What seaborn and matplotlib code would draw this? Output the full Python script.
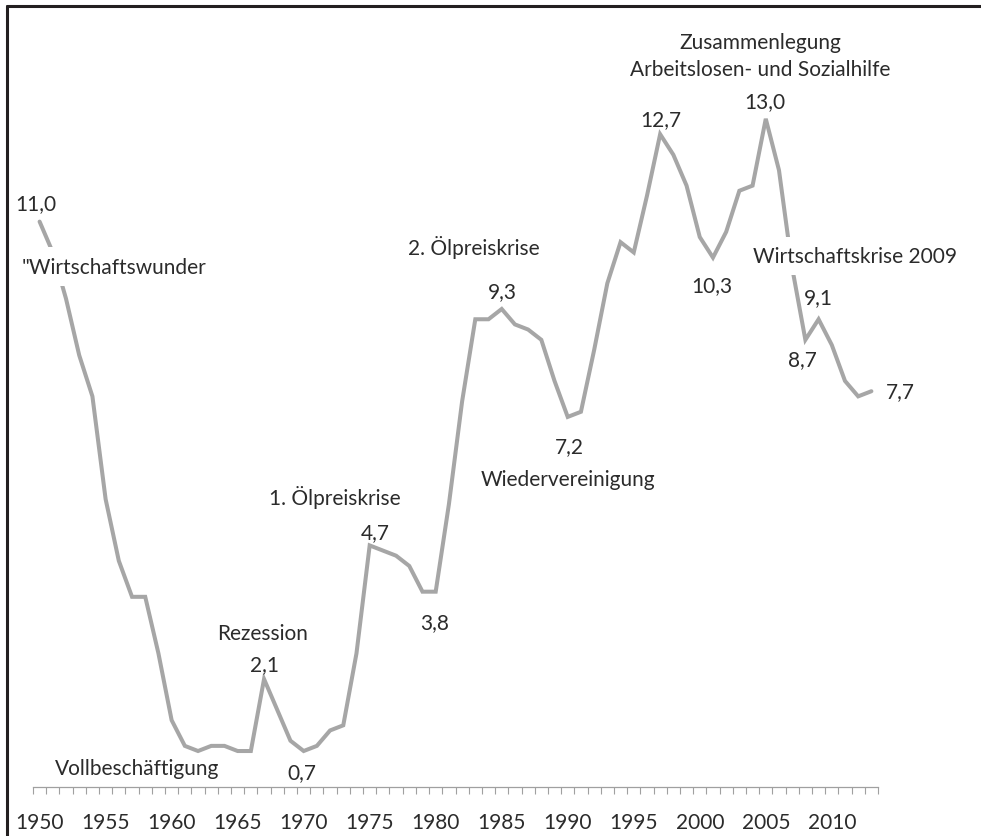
import matplotlib
matplotlib.use("Agg")
import matplotlib.pyplot as plt
from matplotlib.lines import Line2D
from matplotlib.ticker import FixedLocator, NullFormatter
import numpy as np
import pandas as pd
import seaborn as sns

# ---------------- data ----------------
years = list(range(1950, 2014))
rate = [11.0, 10.4, 9.5, 8.4, 7.6, 5.6, 4.4, 3.7, 3.7, 2.6,
        1.3, 0.8, 0.7, 0.8, 0.8, 0.7, 0.7, 2.1, 1.5, 0.9,
        0.7, 0.8, 1.1, 1.2, 2.6, 4.7, 4.6, 4.5, 4.3, 3.8,
        3.8, 5.5, 7.5, 9.1, 9.1, 9.3, 9.0, 8.9, 8.7, 7.9,
        7.2, 7.3, 8.5, 9.8, 10.6, 10.4, 11.5, 12.7, 12.3, 11.7,
        10.7, 10.3, 10.8, 11.6, 11.7, 13.0, 12.0, 10.1, 8.7, 9.1,
        8.6, 7.9, 7.6, 7.7]
tick_years = [1950, 1955, 1960, 1965, 1970, 1975, 1980, 1985, 1990, 1995, 2000, 2005, 2010]
tick_labels = [str(y) for y in tick_years]

# annotation texts (value labels and event labels)
value_labels = ["11,0", "4,7", "3,8", "2,1", "0,7", "9,3", "7,2", "12,7", "13,0", "10,3", "9,1", "8,7", "7,7"]
event_labels = ['"Wirtschaftswunder', "1. Ölpreiskrise", "Rezession", "Vollbeschäftigung",
                "2. Ölpreiskrise", "Wiedervereinigung", "Zusammenlegung",
                "Arbeitslosen- und Sozialhilfe", "Wirtschaftskrise 2009"]

df = pd.DataFrame({"Jahr": years, "Quote": rate})

# ---------------- style ----------------
sns.set_style("white")
plt.rcParams["font.family"] = ["Lato", "DejaVu Sans"]

FS = 15
TXT = "#2b2b2b"
LINE = "#a6a6a6"

fig = plt.figure(figsize=(9.81, 8.37), dpi=100)
ax = fig.add_axes([33 / 981, 49 / 837, 845 / 981, 771 / 837])

sns.lineplot(data=df, x="Jahr", y="Quote", ax=ax, color=LINE, linewidth=2.9,
             solid_joinstyle="miter", zorder=2)

ax.set_xlim(1949.5, 2013.5)
ax.set_ylim(0, 15)
ax.set_xlabel("")
ax.set_ylabel("")
ax.set_yticks([])
for s in ["left", "right", "top"]:
    ax.spines[s].set_visible(False)
ax.spines["bottom"].set_color("#a0a0a0")
ax.spines["bottom"].set_linewidth(0.9)

ax.set_xticks(tick_years)
ax.set_xticklabels(tick_labels, fontsize=FS, color=TXT)
ax.xaxis.set_minor_locator(FixedLocator(np.arange(1949.5, 2014.0, 1.0)))
ax.xaxis.set_minor_formatter(NullFormatter())
ax.tick_params(axis="x", which="major", bottom=True, length=0, pad=18)
ax.tick_params(axis="x", which="minor", bottom=True, length=5, width=0.8,
               color="#a0a0a0", direction="out")

box = dict(boxstyle="square,pad=0.45", facecolor="white", edgecolor="none")

def put(txt, x, y, ha="center", bbox=None):
    ax.text(x, y, txt, fontsize=FS, color=TXT, ha=ha, va="center",
            zorder=5, bbox=bbox, clip_on=False)

# value labels
put(value_labels[0], 1949.73, 11.36)
put(value_labels[1], 1975.41, 4.96)
put(value_labels[2], 1979.88, 3.21)
put(value_labels[3], 1967.0, 2.39)
put(value_labels[4], 1969.88, 0.29)
put(value_labels[5], 1985.03, 9.65)
put(value_labels[6], 1990.1, 6.63)
put(value_labels[7], 1997.07, 13.0)
put(value_labels[8], 2004.95, 13.35)
put(value_labels[9], 2000.94, 9.77)
put(value_labels[10], 2008.96, 9.53)
put(value_labels[11], 2007.75, 8.33)
put(value_labels[12], 2015.18, 7.70)

# event labels
put(event_labels[0], 1948.67, 10.12, ha="left", bbox=box)
put(event_labels[1], 1972.38, 5.66)
put(event_labels[2], 1966.85, 3.0)
put(event_labels[3], 1957.38, 0.37)
put(event_labels[4], 1982.91, 10.51)
put(event_labels[5], 1990.03, 5.99)
put(event_labels[6], 2004.57, 14.49)
put(event_labels[7], 2004.57, 13.97)
put(event_labels[8], 2011.76, 10.33, bbox=box)

# outer frame (left and top edges)
fig.add_artist(Line2D([7 / 981, 7 / 981], [0, 1 - 7 / 837], transform=fig.transFigure,
                      color="#231f20", linewidth=2.2))
fig.add_artist(Line2D([7 / 981, 1], [1 - 7 / 837, 1 - 7 / 837], transform=fig.transFigure,
                      color="#231f20", linewidth=2.2))

fig.savefig("out.png", dpi=100, facecolor="white")
